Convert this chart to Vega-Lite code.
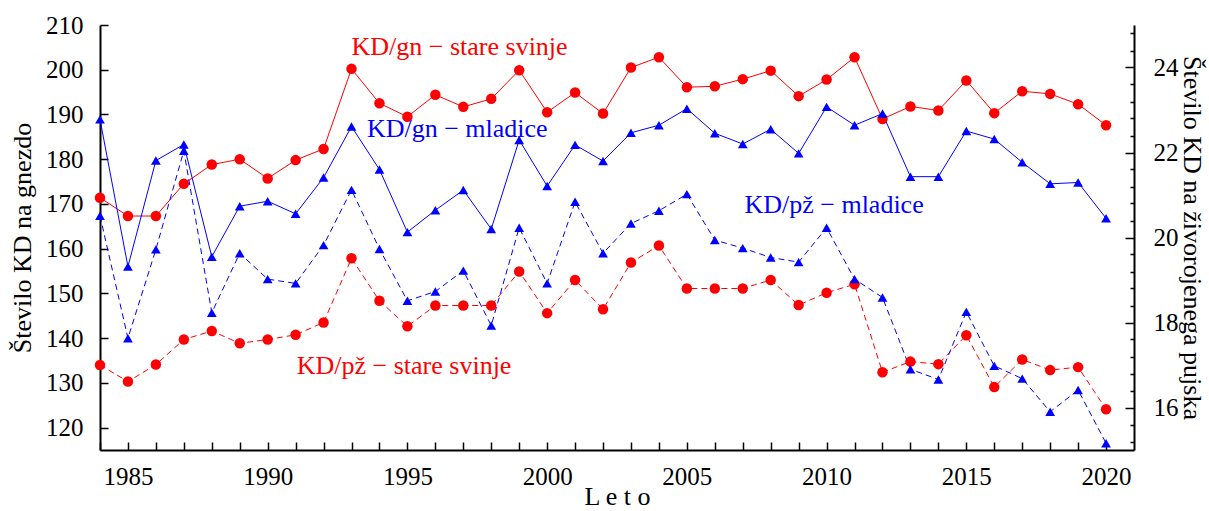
{
  "$schema": "https://vega.github.io/schema/vega-lite/v6.json",
  "width": 1034,
  "height": 425,
  "autosize": "none",
  "padding": {"left": 100, "top": 25, "right": 75, "bottom": 61},
  "background": "white",
  "config": {
    "view": {"stroke": null},
    "font": "Liberation Serif",
    "axis": {
      "grid": false,
      "domainColor": "black",
      "domainWidth": 2,
      "tickColor": "black",
      "tickWidth": 1.5,
      "labelColor": "black",
      "titleColor": "black",
      "labelFont": "Liberation Serif",
      "titleFont": "Liberation Serif",
      "labelFontSize": 25,
      "titleFontSize": 26,
      "titleFontWeight": "normal",
      "labelFlush": false,
      "labelOverlap": false
    }
  },
  "datasets": {
    "gn": [
      {"year": 1984, "group": "stare", "value": 171.4},
      {"year": 1985, "group": "stare", "value": 167.3},
      {"year": 1986, "group": "stare", "value": 167.3},
      {"year": 1987, "group": "stare", "value": 174.5},
      {"year": 1988, "group": "stare", "value": 178.8},
      {"year": 1989, "group": "stare", "value": 180.0},
      {"year": 1990, "group": "stare", "value": 175.7},
      {"year": 1991, "group": "stare", "value": 179.8},
      {"year": 1992, "group": "stare", "value": 182.3},
      {"year": 1993, "group": "stare", "value": 200.2},
      {"year": 1994, "group": "stare", "value": 192.5},
      {"year": 1995, "group": "stare", "value": 189.5},
      {"year": 1996, "group": "stare", "value": 194.4},
      {"year": 1997, "group": "stare", "value": 191.7},
      {"year": 1998, "group": "stare", "value": 193.5},
      {"year": 1999, "group": "stare", "value": 199.9},
      {"year": 2000, "group": "stare", "value": 190.5},
      {"year": 2001, "group": "stare", "value": 194.9},
      {"year": 2002, "group": "stare", "value": 190.2},
      {"year": 2003, "group": "stare", "value": 200.5},
      {"year": 2004, "group": "stare", "value": 202.8},
      {"year": 2005, "group": "stare", "value": 196.1},
      {"year": 2006, "group": "stare", "value": 196.3},
      {"year": 2007, "group": "stare", "value": 197.9},
      {"year": 2008, "group": "stare", "value": 199.8},
      {"year": 2009, "group": "stare", "value": 194.1},
      {"year": 2010, "group": "stare", "value": 197.8},
      {"year": 2011, "group": "stare", "value": 202.8},
      {"year": 2012, "group": "stare", "value": 189.0},
      {"year": 2013, "group": "stare", "value": 191.8},
      {"year": 2014, "group": "stare", "value": 190.9},
      {"year": 2015, "group": "stare", "value": 197.6},
      {"year": 2016, "group": "stare", "value": 190.3},
      {"year": 2017, "group": "stare", "value": 195.2},
      {"year": 2018, "group": "stare", "value": 194.6},
      {"year": 2019, "group": "stare", "value": 192.3},
      {"year": 2020, "group": "stare", "value": 187.6},
      {"year": 1984, "group": "mladice", "value": 188.9},
      {"year": 1985, "group": "mladice", "value": 156.0},
      {"year": 1986, "group": "mladice", "value": 179.7},
      {"year": 1987, "group": "mladice", "value": 183.3},
      {"year": 1988, "group": "mladice", "value": 158.2},
      {"year": 1989, "group": "mladice", "value": 169.5},
      {"year": 1990, "group": "mladice", "value": 170.6},
      {"year": 1991, "group": "mladice", "value": 167.8},
      {"year": 1992, "group": "mladice", "value": 175.9},
      {"year": 1993, "group": "mladice", "value": 187.3},
      {"year": 1994, "group": "mladice", "value": 177.7},
      {"year": 1995, "group": "mladice", "value": 163.7},
      {"year": 1996, "group": "mladice", "value": 168.6},
      {"year": 1997, "group": "mladice", "value": 173.1},
      {"year": 1998, "group": "mladice", "value": 164.4},
      {"year": 1999, "group": "mladice", "value": 184.3},
      {"year": 2000, "group": "mladice", "value": 174.0},
      {"year": 2001, "group": "mladice", "value": 183.2},
      {"year": 2002, "group": "mladice", "value": 179.6},
      {"year": 2003, "group": "mladice", "value": 185.9},
      {"year": 2004, "group": "mladice", "value": 187.6},
      {"year": 2005, "group": "mladice", "value": 191.3},
      {"year": 2006, "group": "mladice", "value": 185.8},
      {"year": 2007, "group": "mladice", "value": 183.4},
      {"year": 2008, "group": "mladice", "value": 186.7},
      {"year": 2009, "group": "mladice", "value": 181.3},
      {"year": 2010, "group": "mladice", "value": 191.7},
      {"year": 2011, "group": "mladice", "value": 187.6},
      {"year": 2012, "group": "mladice", "value": 190.2},
      {"year": 2013, "group": "mladice", "value": 176.1},
      {"year": 2014, "group": "mladice", "value": 176.1},
      {"year": 2015, "group": "mladice", "value": 186.3},
      {"year": 2016, "group": "mladice", "value": 184.5},
      {"year": 2017, "group": "mladice", "value": 179.3},
      {"year": 2018, "group": "mladice", "value": 174.5},
      {"year": 2019, "group": "mladice", "value": 174.8},
      {"year": 2020, "group": "mladice", "value": 166.8}
    ],
    "pz": [
      {"year": 1984, "group": "stare", "value": 17.00},
      {"year": 1985, "group": "stare", "value": 16.61},
      {"year": 1986, "group": "stare", "value": 17.01},
      {"year": 1987, "group": "stare", "value": 17.60},
      {"year": 1988, "group": "stare", "value": 17.80},
      {"year": 1989, "group": "stare", "value": 17.51},
      {"year": 1990, "group": "stare", "value": 17.60},
      {"year": 1991, "group": "stare", "value": 17.71},
      {"year": 1992, "group": "stare", "value": 18.00},
      {"year": 1993, "group": "stare", "value": 19.51},
      {"year": 1994, "group": "stare", "value": 18.51},
      {"year": 1995, "group": "stare", "value": 17.91},
      {"year": 1996, "group": "stare", "value": 18.40},
      {"year": 1997, "group": "stare", "value": 18.40},
      {"year": 1998, "group": "stare", "value": 18.40},
      {"year": 1999, "group": "stare", "value": 19.20},
      {"year": 2000, "group": "stare", "value": 18.22},
      {"year": 2001, "group": "stare", "value": 19.00},
      {"year": 2002, "group": "stare", "value": 18.31},
      {"year": 2003, "group": "stare", "value": 19.41},
      {"year": 2004, "group": "stare", "value": 19.81},
      {"year": 2005, "group": "stare", "value": 18.80},
      {"year": 2006, "group": "stare", "value": 18.80},
      {"year": 2007, "group": "stare", "value": 18.80},
      {"year": 2008, "group": "stare", "value": 19.00},
      {"year": 2009, "group": "stare", "value": 18.41},
      {"year": 2010, "group": "stare", "value": 18.70},
      {"year": 2011, "group": "stare", "value": 18.90},
      {"year": 2012, "group": "stare", "value": 16.83},
      {"year": 2013, "group": "stare", "value": 17.08},
      {"year": 2014, "group": "stare", "value": 17.02},
      {"year": 2015, "group": "stare", "value": 17.70},
      {"year": 2016, "group": "stare", "value": 16.48},
      {"year": 2017, "group": "stare", "value": 17.13},
      {"year": 2018, "group": "stare", "value": 16.88},
      {"year": 2019, "group": "stare", "value": 16.95},
      {"year": 2020, "group": "stare", "value": 15.96},
      {"year": 1984, "group": "mladice", "value": 20.51},
      {"year": 1985, "group": "mladice", "value": 17.63},
      {"year": 1986, "group": "mladice", "value": 19.72},
      {"year": 1987, "group": "mladice", "value": 22.04},
      {"year": 1988, "group": "mladice", "value": 18.23},
      {"year": 1989, "group": "mladice", "value": 19.63},
      {"year": 1990, "group": "mladice", "value": 19.02},
      {"year": 1991, "group": "mladice", "value": 18.92},
      {"year": 1992, "group": "mladice", "value": 19.82},
      {"year": 1993, "group": "mladice", "value": 21.12},
      {"year": 1994, "group": "mladice", "value": 19.73},
      {"year": 1995, "group": "mladice", "value": 18.51},
      {"year": 1996, "group": "mladice", "value": 18.73},
      {"year": 1997, "group": "mladice", "value": 19.22},
      {"year": 1998, "group": "mladice", "value": 17.93},
      {"year": 1999, "group": "mladice", "value": 20.23},
      {"year": 2000, "group": "mladice", "value": 18.92},
      {"year": 2001, "group": "mladice", "value": 20.84},
      {"year": 2002, "group": "mladice", "value": 19.63},
      {"year": 2003, "group": "mladice", "value": 20.33},
      {"year": 2004, "group": "mladice", "value": 20.63},
      {"year": 2005, "group": "mladice", "value": 21.02},
      {"year": 2006, "group": "mladice", "value": 19.94},
      {"year": 2007, "group": "mladice", "value": 19.75},
      {"year": 2008, "group": "mladice", "value": 19.53},
      {"year": 2009, "group": "mladice", "value": 19.42},
      {"year": 2010, "group": "mladice", "value": 20.23},
      {"year": 2011, "group": "mladice", "value": 19.02},
      {"year": 2012, "group": "mladice", "value": 18.59},
      {"year": 2013, "group": "mladice", "value": 16.90},
      {"year": 2014, "group": "mladice", "value": 16.66},
      {"year": 2015, "group": "mladice", "value": 18.25},
      {"year": 2016, "group": "mladice", "value": 16.98},
      {"year": 2017, "group": "mladice", "value": 16.68},
      {"year": 2018, "group": "mladice", "value": 15.90},
      {"year": 2019, "group": "mladice", "value": 16.41},
      {"year": 2020, "group": "mladice", "value": 15.16}
    ],
    "labels": [
      {"year": 1993.0, "value": 203.3, "group": "stare", "label": "KD/gn − stare svinje"},
      {"year": 1993.55, "value": 184.9, "group": "mladice", "label": "KD/gn − mladice"},
      {"year": 2007.06, "value": 167.9, "group": "mladice", "label": "KD/pž − mladice"},
      {"year": 1991.04, "value": 131.9, "group": "stare", "label": "KD/pž − stare svinje"}
    ]
  },
  "encoding": {
    "x": {
      "field": "year", "type": "quantitative",
      "scale": {"domain": [1984, 2021], "nice": false, "zero": false},
      "axis": {
        "title": "L e t o",
        "values": [1984,1985,1986,1987,1988,1989,1990,1991,1992,1993,1994,1995,1996,1997,1998,1999,2000,2001,2002,2003,2004,2005,2006,2007,2008,2009,2010,2011,2012,2013,2014,2015,2016,2017,2018,2019,2020],
        "labelExpr": "datum.value % 5 === 0 ? '' + datum.value : ''",
        "labelOverlap": false,
        "tickSize": -8,
        "labelPadding": 22,
        "titleY": 54,
        "titleBaseline": "alphabetic"
      }
    },
    "color": {"field": "group", "type": "nominal", "scale": {"domain": ["stare", "mladice"], "range": ["#ff0000", "#0000ff"]}, "legend": null}
  },
  "layer": [
    {
      "encoding": {
        "y": {
          "field": "value", "type": "quantitative",
          "scale": {"domain": [115, 210], "nice": false, "zero": false},
          "axis": {
            "title": "Število KD na gnezdo",
            "values": [120,130,140,150,160,170,180,190,200,210],
            "labelOverlap": false,
            "tickSize": -8,
            "labelPadding": 25,
            "titleX": -70,
            "titleBaseline": "alphabetic"
          }
        }
      },
      "layer": [
        {
          "data": {"name": "gn"},
          "mark": {"type": "line", "strokeWidth": 1},
          "encoding": {"detail": {"field": "group"}}
        },
        {
          "data": {"name": "gn"},
          "mark": {"type": "point", "filled": true, "opacity": 1},
          "encoding": {
            "shape": {"field": "group", "type": "nominal", "scale": {"domain": ["stare", "mladice"], "range": ["circle", "triangle-up"]}, "legend": null},
            "size": {"field": "group", "type": "nominal", "scale": {"domain": ["stare", "mladice"], "range": [110, 95]}, "legend": null}
          }
        },
        {
          "data": {"name": "labels"},
          "mark": {"type": "text", "align": "left", "baseline": "alphabetic", "fontSize": 26, "font": "Liberation Serif"},
          "encoding": {"text": {"field": "label"}}
        }
      ]
    },
    {
      "encoding": {
        "y": {
          "field": "value", "type": "quantitative",
          "scale": {"domain": [15, 25], "nice": false, "zero": false},
          "axis": {
            "orient": "right",
            "title": "Število KD na živorojenega pujska",
            "values": [15.2,15.6,16,16.4,16.8,17.2,17.6,18,18.4,18.8,19.2,19.6,20,20.4,20.8,21.2,21.6,22,22.4,22.8,23.2,23.6,24,24.4,24.8],
            "labelExpr": "datum.value % 2 === 0 ? '' + datum.value : ''",
            "labelOverlap": false,
            "tickSize": {"condition": {"test": "datum.value % 2 === 0", "value": -9}, "value": -4},
            "labelPadding": 28,
            "titleX": 49,
            "titleBaseline": "alphabetic"
          }
        }
      },
      "layer": [
        {
          "data": {"name": "pz"},
          "mark": {"type": "line", "strokeWidth": 1, "strokeDash": [6, 4]},
          "encoding": {"detail": {"field": "group"}}
        },
        {
          "data": {"name": "pz"},
          "mark": {"type": "point", "filled": true, "opacity": 1},
          "encoding": {
            "shape": {"field": "group", "type": "nominal", "scale": {"domain": ["stare", "mladice"], "range": ["circle", "triangle-up"]}, "legend": null},
            "size": {"field": "group", "type": "nominal", "scale": {"domain": ["stare", "mladice"], "range": [110, 95]}, "legend": null}
          }
        }
      ]
    }
  ],
  "resolve": {"scale": {"y": "independent"}}
}
